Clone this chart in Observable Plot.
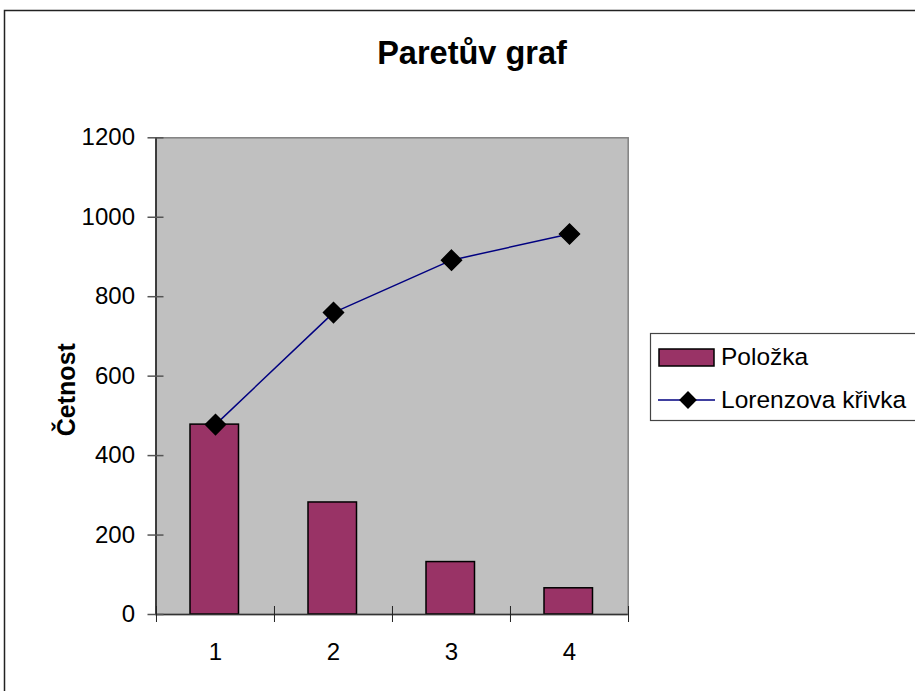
<!DOCTYPE html>
<html>
<head>
<meta charset="utf-8">
<script src="https://cdn.jsdelivr.net/npm/d3@7"></script>
<script src="https://cdn.jsdelivr.net/npm/@observablehq/plot@0.6"></script>
<style>
  html, body { margin: 0; padding: 0; background: #fff; }
  #chart svg { display: block; }
</style>
</head>
<body>
<div id="chart"></div>
<script>
// Pareto chart: item frequencies (bars) and the cumulative Lorenz curve
const categories = ["1", "2", "3", "4"];
const polozka = [478, 282, 132, 66];          // četnost položky
const lorenz = [478, 760, 892, 958];          // kumulativní četnost
const yTicks = [0, 200, 400, 600, 800, 1000, 1200];

const title = "Paretův graf";
const yLabel = "Četnost";
const legendBar = "Položka";
const legendLine = "Lorenzova křivka";

const rows = categories.map((c, i) => ({cat: c, value: polozka[i], cum: lorenz[i]}));

const W = 915, H = 691;
const mL = 155.5, mR = 287.3, mT = 137.3, mB = 77;
const fw = W - mL - mR, fh = H - mT - mB;
const step = fw / categories.length;
const font = "'Liberation Sans', Arial, sans-serif";

const chart = Plot.plot({
  width: W,
  height: H,
  marginLeft: mL,
  marginRight: mR,
  marginTop: mT,
  marginBottom: mB,
  style: {fontFamily: font, fontSize: "24px", background: "white", color: "black"},
  x: {domain: categories, padding: 0, label: null},
  y: {domain: [0, 1200], label: null},
  marks: [
    Plot.frame({fill: "#c0c0c0", stroke: "#808080", strokeWidth: 1.5}),
    Plot.barY(rows, {x: "cat", y: "value", fill: "#993366", stroke: "black", strokeWidth: 1.5, insetLeft: 34, insetRight: 35.5}),
    Plot.line(rows, {x: "cat", y: "cum", stroke: "#000080", strokeWidth: 1.5}),
    Plot.dot(rows, {x: "cat", y: "cum", symbol: "diamond2", r: 9, fill: "black", stroke: "black"}),
    // axis lines
    Plot.frame({anchor: "left", stroke: "black", strokeWidth: 1.2}),
    Plot.ruleY([0], {stroke: "#333", strokeWidth: 1.5}),
    // y ticks crossing the axis
    Plot.tickY(yTicks, {y: d => d, stroke: "#555", strokeWidth: 1.5, insetLeft: -8, insetRight: fw - 8}),
    Plot.axisY({ticks: yTicks, tickSize: 0, tickPadding: 21, tickFormat: d => String(d), label: null}),
    // x ticks at the category boundaries
    Plot.tickX(categories, {x: d => d, dx: -step / 2, stroke: "#222", strokeWidth: 1, insetTop: fh - 8, insetBottom: -8}),
    Plot.tickX(categories.slice(-1), {x: d => d, dx: step / 2, stroke: "#222", strokeWidth: 1, insetTop: fh - 8, insetBottom: -8}),
    Plot.axisX({tickSize: 0, tickPadding: 28, label: null})
  ]
});

document.getElementById("chart").append(chart);

const svg = d3.select(chart);

// chart area border
svg.append("rect")
  .attr("x", 4.5).attr("y", 10.5).attr("width", 1000).attr("height", 1000)
  .attr("fill", "none").attr("stroke", "#222").attr("stroke-width", 1.5);

// title
svg.append("text")
  .attr("x", 472).attr("y", 64)
  .attr("text-anchor", "middle")
  .attr("font-family", font).attr("font-weight", "bold").attr("font-size", 32.5)
  .text(title);

// y axis title
svg.append("text")
  .attr("transform", `translate(75, ${mT + fh / 2 + 14}) rotate(-90)`)
  .attr("text-anchor", "middle")
  .attr("font-family", font).attr("font-weight", "bold").attr("font-size", 25)
  .text(yLabel);

// legend
const lg = svg.append("g").attr("font-family", font).attr("font-size", 24.5).attr("text-anchor", "start");
lg.append("rect")
  .attr("x", 650.5).attr("y", 333.5).attr("width", 400).attr("height", 87)
  .attr("fill", "white").attr("stroke", "#444").attr("stroke-width", 1.2);
lg.append("rect")
  .attr("x", 659).attr("y", 349).attr("width", 55).attr("height", 17)
  .attr("fill", "#993366").attr("stroke", "black").attr("stroke-width", 1.5);
lg.append("text").attr("x", 721).attr("y", 365).text(legendBar);
lg.append("line")
  .attr("x1", 658).attr("x2", 715).attr("y1", 400).attr("y2", 400)
  .attr("stroke", "#000080").attr("stroke-width", 1.5);
lg.append("path")
  .attr("d", d3.symbol(d3.symbolDiamond2, Math.PI * 8 * 8)())
  .attr("transform", "translate(688,400)")
  .attr("fill", "black");
lg.append("text").attr("x", 721).attr("y", 408).text(legendLine);
</script>
</body>
</html>
